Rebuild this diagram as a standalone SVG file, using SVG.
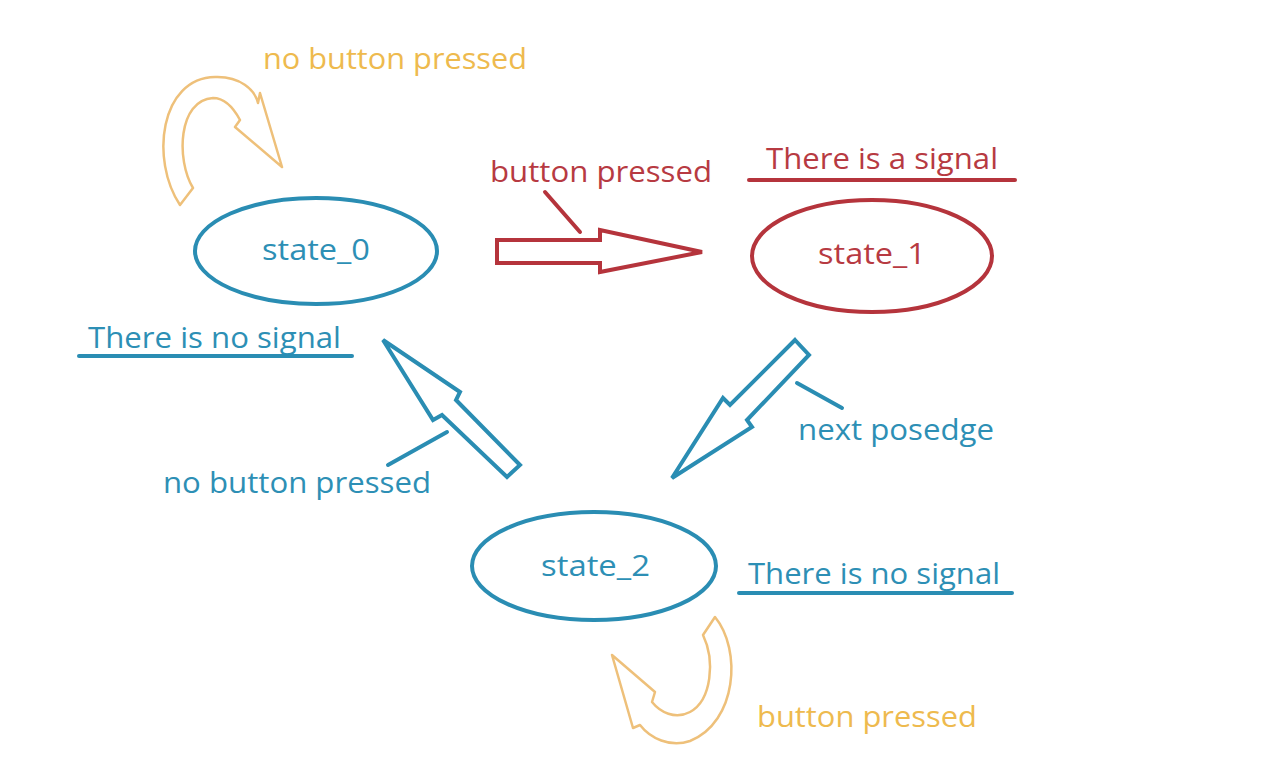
<svg xmlns="http://www.w3.org/2000/svg" width="1286" height="780" viewBox="0 0 1286 780">
<style>
text{font-family:"Open Sans","Liberation Sans",sans-serif;font-size:30px}
.b{fill:#2d8fb5}.r{fill:#b73a42}.o{fill:#eeba4e}
.st{fill:none;stroke-width:4}
.sb{stroke:#2a8db3}.sr{stroke:#b5343c}
.ob{fill:none;stroke:#eec07a;stroke-width:2.5;stroke-linejoin:round}
.ul{stroke-width:4;stroke-linecap:round}
</style>
<rect width="1286" height="780" fill="#fff"/>
<g id="state_0"><ellipse cx="316" cy="251" rx="121" ry="53" class="st sb"/><text x="262" y="260" class="b" textLength="108" lengthAdjust="spacingAndGlyphs">state_0</text></g>
<g id="state_1"><ellipse cx="872" cy="256" rx="120" ry="56" class="st sr"/><text x="818" y="264" class="r" textLength="108" lengthAdjust="spacingAndGlyphs">state_1</text></g>
<g id="state_2"><ellipse cx="594" cy="566" rx="122" ry="54" class="st sb"/><text x="541" y="576" class="b" textLength="109" lengthAdjust="spacingAndGlyphs">state_2</text></g>
<g id="connectors">
<path class="ob" d="M180,205 C150,160 160,78 215,77 C240,76 255,90 258,103 L260,93 L282,167 L235,127 L240,120 C232,105 222,98 213,98 C178,100 176,160 193,188 Z"/>
<path d="M497,240 L600,240 L600,230 L702,252 L600,272 L600,263 L497,263 Z" fill="none" stroke="#b5343c" stroke-width="4" stroke-linejoin="miter"/>
<line x1="545" y1="192" x2="580" y2="232" class="ul sr"/>
<path d="M795,340 L809,355 L747,420 L752,427 L672,478 L723,398 L730,405 Z" fill="none" stroke="#2a8db3" stroke-width="4"/>
<line x1="797" y1="383" x2="842" y2="408" class="ul sb"/>
<path d="M383,340 L460,392 L456,400 L520,465 L507,477 L442,415 L433,420 Z" fill="none" stroke="#2a8db3" stroke-width="4"/>
<line x1="388" y1="465" x2="447" y2="432" class="ul sb"/>
<path class="ob" d="M715,617 C742,650 737,722 690,741 C670,748 650,738 640,725 L633,728 L612,655 L655,692 L652,702 C660,712 675,720 690,712 C712,700 715,660 703,635 Z"/>
</g>
<g id="labels">
<text x="263" y="69" class="o" textLength="264" lengthAdjust="spacingAndGlyphs">no button pressed</text>
<text x="490" y="182" class="r" textLength="222" lengthAdjust="spacingAndGlyphs">button pressed</text>
<text x="766" y="169" class="r" textLength="232" lengthAdjust="spacingAndGlyphs">There is a signal</text>
<line x1="749" y1="180" x2="1015" y2="180" class="ul sr"/>
<text x="88" y="348" class="b" textLength="253" lengthAdjust="spacingAndGlyphs">There is no signal</text>
<line x1="79" y1="356" x2="352" y2="356" class="ul sb"/>
<text x="163" y="493" class="b" textLength="268" lengthAdjust="spacingAndGlyphs">no button pressed</text>
<text x="798" y="440" class="b" textLength="196" lengthAdjust="spacingAndGlyphs">next posedge</text>
<text x="748" y="584" class="b" textLength="252" lengthAdjust="spacingAndGlyphs">There is no signal</text>
<line x1="739" y1="593" x2="1012" y2="593" class="ul sb"/>
<text x="757" y="727" class="o" textLength="220" lengthAdjust="spacingAndGlyphs">button pressed</text>
</g>
</svg>
